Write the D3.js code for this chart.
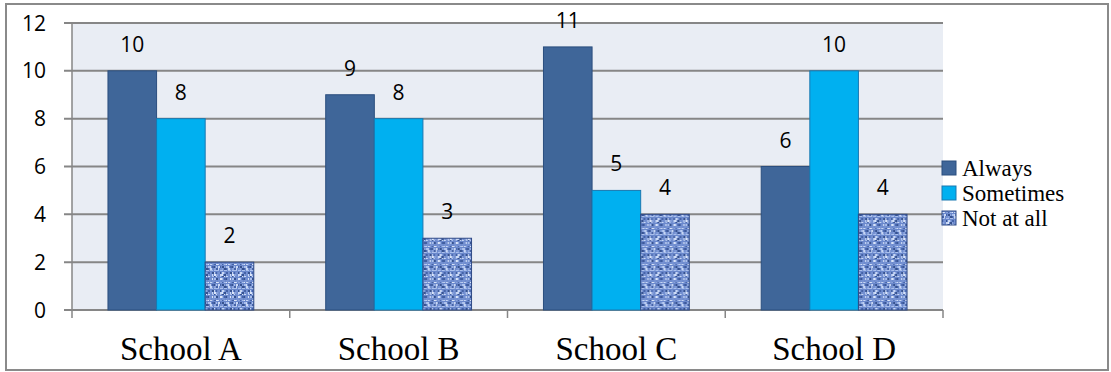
<!DOCTYPE html>
<html>
<head>
<meta charset="utf-8">
<script src="https://cdn.jsdelivr.net/npm/d3@7"></script>
<style>
  body { margin: 0; background: #fff; }
  svg { display: block; }
</style>
</head>
<body>
<div class="chart"></div>
<script>
var schools = ['School A', 'School B', 'School C', 'School D'];
var seriesNames = ['Always', 'Sometimes', 'Not at all'];
var always = [10, 9, 11, 6];
var sometimes = [8, 8, 5, 10];
var notAtAll = [2, 3, 4, 4];
var yTicks = [0, 2, 4, 6, 8, 10, 12];

var values = [always, sometimes, notAtAll];

var W = 1111, H = 372;
var plot = { left: 72, right: 943, top: 23, bottom: 310 };

var svg = d3.select('.chart')
    .append('svg')
    .attr('width', W)
    .attr('height', H);

// woven texture for "Not at all"
var defs = svg.append('defs');
var pat = defs.append('pattern')
    .attr('id', 'weave')
    .attr('patternUnits', 'userSpaceOnUse')
    .attr('width', 18)
    .attr('height', 18);
pat.append('rect').attr('width', 18).attr('height', 18).attr('fill', '#6a88cc');
var shades = ['#a9bfec', '#4563a8', '#8aa3dc', '#c8d7f4', '#36528f', '#7692d2', '#dbe5f8'];
for (var i = 0; i < 18; i += 2) {
    for (var j = 0; j < 18; j += 2) {
        var k = (i * 7 + j * 11 + (i * j) % 5) % shades.length;
        pat.append('rect')
            .attr('x', i).attr('y', j)
            .attr('width', (i + j) % 4 === 0 ? 2 : 1)
            .attr('height', (i * 3 + j) % 6 === 0 ? 1 : 2)
            .attr('fill', shades[k]);
    }
}

var colors = ['#3f6699', '#00b0f0', 'url(#weave)'];
var strokes = ['#2b4e7e', '#1a78b0', '#2f4a86'];

// outer frame
svg.append('rect')
    .attr('x', 6).attr('y', 4)
    .attr('width', 1102).attr('height', 366)
    .attr('fill', '#fff')
    .attr('stroke', '#8a8a8a')
    .attr('stroke-width', 2);

var x0 = d3.scaleBand()
    .domain(schools)
    .range([plot.left, plot.right])
    .paddingInner(0)
    .paddingOuter(0);

var x1 = d3.scaleBand()
    .domain(d3.range(3))
    .range([0, x0.bandwidth()])
    .paddingOuter(0.74)
    .paddingInner(0);

var y = d3.scaleLinear()
    .domain([0, 12])
    .range([plot.bottom, plot.top]);

// plot background
svg.append('rect')
    .attr('x', plot.left).attr('y', plot.top)
    .attr('width', plot.right - plot.left)
    .attr('height', plot.bottom - plot.top)
    .attr('fill', '#e9edf4');

// gridlines + y ticks
svg.append('g')
    .selectAll('line')
    .data(yTicks)
    .enter()
    .append('line')
    .attr('x1', plot.left - 8)
    .attr('x2', plot.right)
    .attr('y1', d => y(d))
    .attr('y2', d => y(d))
    .attr('stroke', '#868686')
    .attr('stroke-width', 2);

// y axis line
svg.append('line')
    .attr('x1', plot.left).attr('x2', plot.left)
    .attr('y1', plot.top).attr('y2', plot.bottom)
    .attr('stroke', '#868686')
    .attr('stroke-width', 1.5);

// category tick marks
var catEdges = schools.map(s => x0(s)).concat([plot.right]);
svg.append('g')
    .selectAll('line')
    .data(catEdges)
    .enter()
    .append('line')
    .attr('x1', d => d).attr('x2', d => d)
    .attr('y1', plot.bottom).attr('y2', plot.bottom + 8)
    .attr('stroke', '#868686')
    .attr('stroke-width', 1.5);

// y tick labels
svg.append('g')
    .selectAll('text')
    .data(yTicks)
    .enter()
    .append('text')
    .attr('x', 46)
    .attr('y', d => y(d))
    .attr('dy', '0.36em')
    .attr('text-anchor', 'end')
    .attr('font-family', 'Open Sans, sans-serif')
    .attr('font-size', 21)
    .attr('fill', '#000')
    .text(d => d);

// bars
var groups = svg.append('g')
    .selectAll('g')
    .data(schools)
    .enter()
    .append('g')
    .attr('transform', d => `translate(${x0(d)},0)`);

groups.selectAll('rect')
    .data((d, i) => values.map((v, s) => ({ s: s, v: v[i] })))
    .enter()
    .append('rect')
    .attr('x', d => x1(d.s))
    .attr('width', x1.bandwidth())
    .attr('y', d => y(d.v))
    .attr('height', d => y(0) - y(d.v))
    .attr('fill', d => colors[d.s])
    .attr('stroke', d => strokes[d.s])
    .attr('stroke-width', 1);

// value labels
groups.selectAll('text')
    .data((d, i) => values.map((v, s) => ({ s: s, v: v[i] })))
    .enter()
    .append('text')
    .attr('x', d => x1(d.s) + x1.bandwidth() / 2)
    .attr('y', d => y(d.v) - 19)
    .attr('text-anchor', 'middle')
    .attr('font-family', 'Open Sans, sans-serif')
    .attr('font-size', 21)
    .attr('fill', '#000')
    .text(d => d.v);

// category labels
svg.append('g')
    .selectAll('text')
    .data(schools)
    .enter()
    .append('text')
    .attr('x', d => x0(d) + x0.bandwidth() / 2)
    .attr('y', 360)
    .attr('text-anchor', 'middle')
    .attr('font-family', 'Liberation Serif, Times New Roman, serif')
    .attr('font-size', 33)
    .attr('fill', '#000')
    .text(d => d);

// legend
var legend = svg.append('g')
    .selectAll('g')
    .data(seriesNames)
    .enter()
    .append('g')
    .attr('transform', (d, i) => `translate(942,${168 + i * 25})`);

legend.append('rect')
    .attr('x', 0).attr('y', -7)
    .attr('width', 14).attr('height', 14)
    .attr('fill', (d, i) => colors[i])
    .attr('stroke', (d, i) => strokes[i])
    .attr('stroke-width', 1);

legend.append('text')
    .attr('x', 20)
    .attr('y', 0)
    .attr('dy', '0.33em')
    .attr('font-family', 'Liberation Serif, Times New Roman, serif')
    .attr('font-size', 23)
    .attr('fill', '#000')
    .text(d => d);
</script>
</body>
</html>
